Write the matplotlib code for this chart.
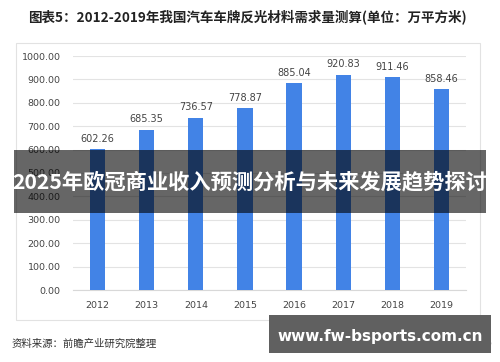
import matplotlib
matplotlib.use("Agg")
import matplotlib.pyplot as plt
from matplotlib.patches import Rectangle

plt.rcParams["font.family"] = ["Noto Sans CJK SC", "DejaVu Sans"]

# ── Data ────────────────────────────────────────────────────────────────────
years = ["2012", "2013", "2014", "2015", "2016", "2017", "2018", "2019"]
demand = [602.26, 685.35, 736.57, 778.87, 885.04, 920.83, 911.46, 858.46]
y_ticks = [0, 100, 200, 300, 400, 500, 600, 700, 800, 900, 1000]

title = "图表5：2012-2019年我国汽车车牌反光材料需求量测算(单位：万平方米)"
source = "资料来源：前瞻产业研究院整理"
banner = "2025年欧冠商业收入预测分析与未来发展趋势探讨"
site = "www.fw-bsports.com.cn"
app_mark = "@前瞻经济学人APP"

W, H = 500, 362
fig = plt.figure(figsize=(W / 100, H / 100), dpi=100)


def fx(px):
    return px / W


def fy(py):
    return 1 - py / H


# chart frame
fig.add_artist(Rectangle((fx(16), fy(320)), fx(480) - fx(16), fy(43) - fy(320),
                         transform=fig.transFigure, fill=False,
                         ec="#e2e2e2", lw=0.8))

ax = fig.add_axes([fx(73), fy(290), fx(466) - fx(73), fy(56) - fy(290)])
x = range(len(years))
ax.bar(x, demand, width=0.31, color="#4283e6", zorder=3)
for i, v in enumerate(demand):
    ax.text(i, v + 22, f"{v:.2f}", ha="center", va="bottom",
            fontsize=7, color="#444444", family="DejaVu Sans")

ax.set_xlim(-0.5, len(years) - 0.5)
ax.set_ylim(0, 1000)
ax.set_yticks(y_ticks)
ax.set_yticklabels([f"{t:.2f}" for t in y_ticks])
ax.set_xticks(list(x))
ax.set_xticklabels(years)
ax.tick_params(length=0, labelsize=6.8, colors="#444444")
ax.tick_params(axis="y", pad=9)
ax.tick_params(axis="x", pad=8)
for lab in ax.get_xticklabels() + ax.get_yticklabels():
    lab.set_family("DejaVu Sans")
ax.grid(axis="y", color="#e3e3e3", lw=0.8, zorder=0)
for s in ["top", "right", "left"]:
    ax.spines[s].set_visible(False)
ax.spines["bottom"].set_color("#d8d8d8")

# title and source
fig.text(fx(28), fy(17), title, ha="left", va="center",
         fontsize=9.75, fontweight="bold", color="#222222")
fig.text(fx(12), fy(344), source, ha="left", va="center",
         fontsize=7.5, color="#333333")
fig.text(fx(492), fy(346), app_mark, ha="right", va="center",
         fontsize=7, color="#888888")

# dark banner across the middle
fig.add_artist(Rectangle((fx(14), fy(213)), fx(486) - fx(14), fy(150) - fy(213),
                         transform=fig.transFigure, color="black",
                         alpha=0.6, lw=0, zorder=10))
fig.text(0.5, fy(182), banner, ha="center", va="center", fontsize=15.3,
         fontweight="bold", color="white", zorder=11)

# site box bottom right
fig.add_artist(Rectangle((fx(269), fy(353)), fx(491) - fx(269), fy(315) - fy(353),
                         transform=fig.transFigure, color="#606060",
                         lw=0, zorder=10))
fig.text(fx(380), fy(336), site, ha="center", va="center", fontsize=11,
         fontweight="bold", color="white", family="DejaVu Sans", zorder=11)

fig.savefig("out.png", dpi=100)
